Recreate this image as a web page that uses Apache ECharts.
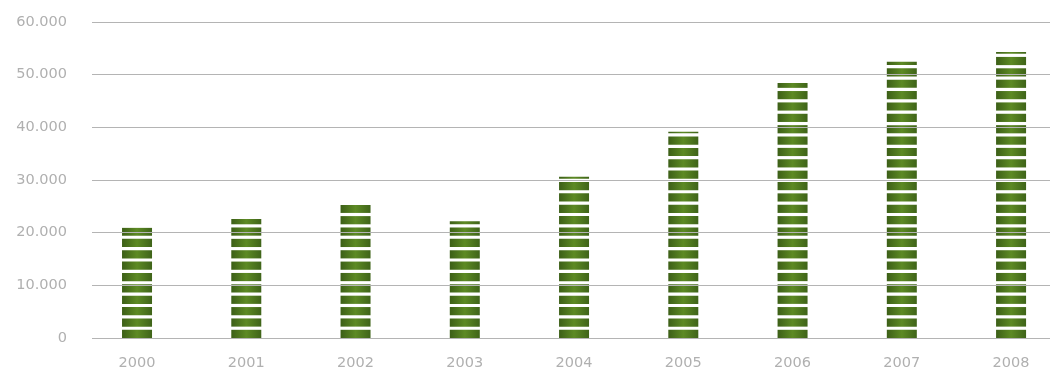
<!DOCTYPE html>
<html>
<head>
<meta charset="utf-8">
<script src="https://cdn.jsdelivr.net/npm/echarts@6/dist/echarts.min.js"></script>
<style>
  html, body { margin: 0; padding: 0; background: #fff; overflow: hidden; }
  /* wider than the window: the last category band runs past the right edge */
  #chart { width: 1100px; height: 374px; }
</style>
</head>
<body>
<div id="chart"></div>
<script>
// values
var years = ['2000', '2001', '2002', '2003', '2004', '2005', '2006', '2007', '2008'];
var values = [20950, 22600, 25250, 22150, 30620, 39170, 48400, 52450, 54300];
var yTicks = [0, 10000, 20000, 30000, 40000, 50000, 60000];

var plotTop = 22;
var plotHeight = 316;
var yMax = yTicks[yTicks.length - 1];

// stripes: band height + gap, stacked from the axis
var bandH = 8.2;
var gapHalf = 1.585;
var unit = bandH + gapHalf * 2;
var stripeCount = 28;
var boundPx = stripeCount * unit - gapHalf * 2;
var boundValue = boundPx / plotHeight * yMax;

function fmt (v) {
  if (v === 0) return '0';
  return (v / 1000).toFixed(0) + '.000';
}

var chart = echarts.init(document.getElementById('chart'));
var labelFont = { color: '#b0b0b0', fontFamily: 'DejaVu Sans', fontSize: 14.5 };

chart.setOption({
  animation: false,
  grid: [
    { left: 92, width: 980, top: plotTop, height: plotHeight },
    { left: 82.4, width: 983.3, top: plotTop, height: plotHeight }
  ],
  xAxis: [
    { gridIndex: 0, type: 'category', data: years, show: false },
    {
      gridIndex: 1,
      type: 'category',
      data: years,
      axisLine: { show: false },
      axisTick: { show: false },
      axisLabel: Object.assign({ margin: 18 }, labelFont)
    }
  ],
  yAxis: [
    {
      gridIndex: 0,
      type: 'value',
      min: 0,
      max: yMax,
      interval: 10000,
      z: 5,
      axisLine: { show: false },
      axisTick: { show: false },
      axisLabel: Object.assign({ margin: 25, padding: [0, 0, 9, 0], formatter: fmt }, labelFont),
      splitLine: { lineStyle: { color: '#b4b4b4', width: 1 } }
    },
    { gridIndex: 1, type: 'value', min: 0, max: yMax, show: false }
  ],
  series: [
    {
      type: 'pictorialBar',
      xAxisIndex: 1,
      yAxisIndex: 1,
      data: values,
      symbol: 'rect',
      symbolSize: [30, bandH],
      symbolRepeat: true,
      symbolMargin: gapHalf,
      symbolClip: true,
      symbolBoundingData: boundValue,
      z: 2,
      itemStyle: {
        color: new echarts.graphic.LinearGradient(0, 0, 1, 0, [
          { offset: 0, color: '#3c5f17' },
          { offset: 0.5, color: '#5d8a24' },
          { offset: 1, color: '#3f6419' }
        ])
      }
    }
  ]
});
</script>
</body>
</html>
